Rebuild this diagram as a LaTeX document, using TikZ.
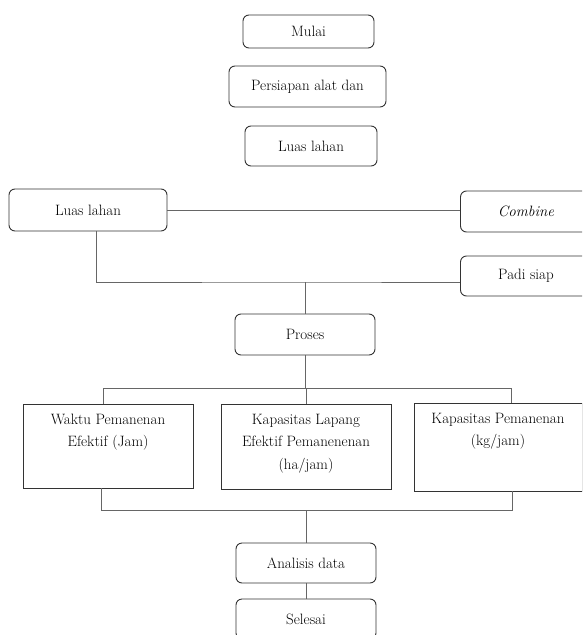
\documentclass[tikz,border=0pt]{standalone}
\usepackage{tikz}

\tikzset{
	kotak/.style={draw=black!80, line width=0.9pt, rounded corners=6pt, inner sep=0pt},
	kotakhasil/.style={draw=black!80, line width=0.9pt, inner sep=0pt},
	teks/.style={anchor=north, align=center, inner sep=0pt},
	garis/.style={draw=black!60, line width=0.8pt}
}

\begin{document}
\begin{tikzpicture}[x=1pt,y=-1pt,font=\fontsize{15}{22.5}\selectfont]
	\useasboundingbox (0,0) rectangle (582,635);
	\clip (0,0) rectangle (582,635);

	% urutan atas
	\node[kotak, minimum width=131pt, minimum height=33pt] (mulai) at (308.5,31.5) {Mulai};
	\node[kotak, minimum width=157pt, minimum height=41pt] (persiapan) at (307.5,86.5) {Persiapan alat dan};
	\node[kotak, minimum width=132pt, minimum height=40pt] (luas) at (311,146) {Luas lahan};

	% bahan
	\node[kotak, minimum width=158pt, minimum height=42pt] (luaskiri) at (88,210) {Luas lahan};
	\node[kotak, minimum width=131pt, minimum height=41pt] (combine) at (526,211.5) {\textit{Combine}};
	\node[kotak, minimum width=131pt, minimum height=40pt] (padi) at (526,276) {Padi siap};
	\node[kotak, minimum width=140pt, minimum height=41pt] (proses) at (305,334.5) {Proses};

	% hasil pengukuran
	\node[kotakhasil, minimum width=170pt, minimum height=84pt] (waktu) at (108,446) {};
	\node[kotakhasil, minimum width=170pt, minimum height=85pt] (lapang) at (306,446.5) {};
	\node[kotakhasil, minimum width=168pt, minimum height=88pt] (kapasitas) at (498,447) {};
	\node[teks] (waktuteks) at ([yshift=-10pt]waktu.north) {Waktu Pemanenan\\Efektif (Jam)};
	\node[teks] (lapangteks) at ([yshift=-10pt]lapang.north) {Kapasitas Lapang\\Efektif Pemanenenan\\(ha/jam)};
	\node[teks] (kapasitasteks) at ([yshift=-10pt]kapasitas.north) {Kapasitas Pemanenan\\(kg/jam)};

	\node[kotak, minimum width=140pt, minimum height=40pt] (analisis) at (306,563) {Analisis data};
	\node[kotak, minimum width=140pt, minimum height=40pt] (selesai) at (306,619) {Selesai};

	\coordinate (simpang) at (305,282);
	\coordinate (atasKiri) at (103,388);
	\coordinate (atasKanan) at (511,388);
	\coordinate (bawahKiri) at (101,510);
	\coordinate (bawahKanan) at (512,510);

	% garis penghubung
	\draw[garis] (luaskiri.east) -- (luaskiri.east -| combine.west);
	\draw[garis] ([xshift=8pt]luaskiri.south) |- (simpang) -- (simpang -| padi.west);
	\draw[garis] (simpang) -- (simpang |- proses.north);
	\draw[garis] (proses.south) -- (proses.south |- atasKiri);
	\draw[garis] (atasKiri |- waktu.north) -- (atasKiri) -- (atasKanan) -- (atasKanan |- kapasitas.north);
	\draw[garis] (lapang.north |- atasKiri) -- (lapang.north);
	\draw[garis] (bawahKiri |- waktu.south) -- (bawahKiri) -- (bawahKanan) -- (bawahKanan |- kapasitas.south);
	\draw[garis] (analisis.north |- bawahKiri) -- (analisis.north);
	\draw[garis] (analisis.south) -- (selesai.north);
\end{tikzpicture}
\end{document}
